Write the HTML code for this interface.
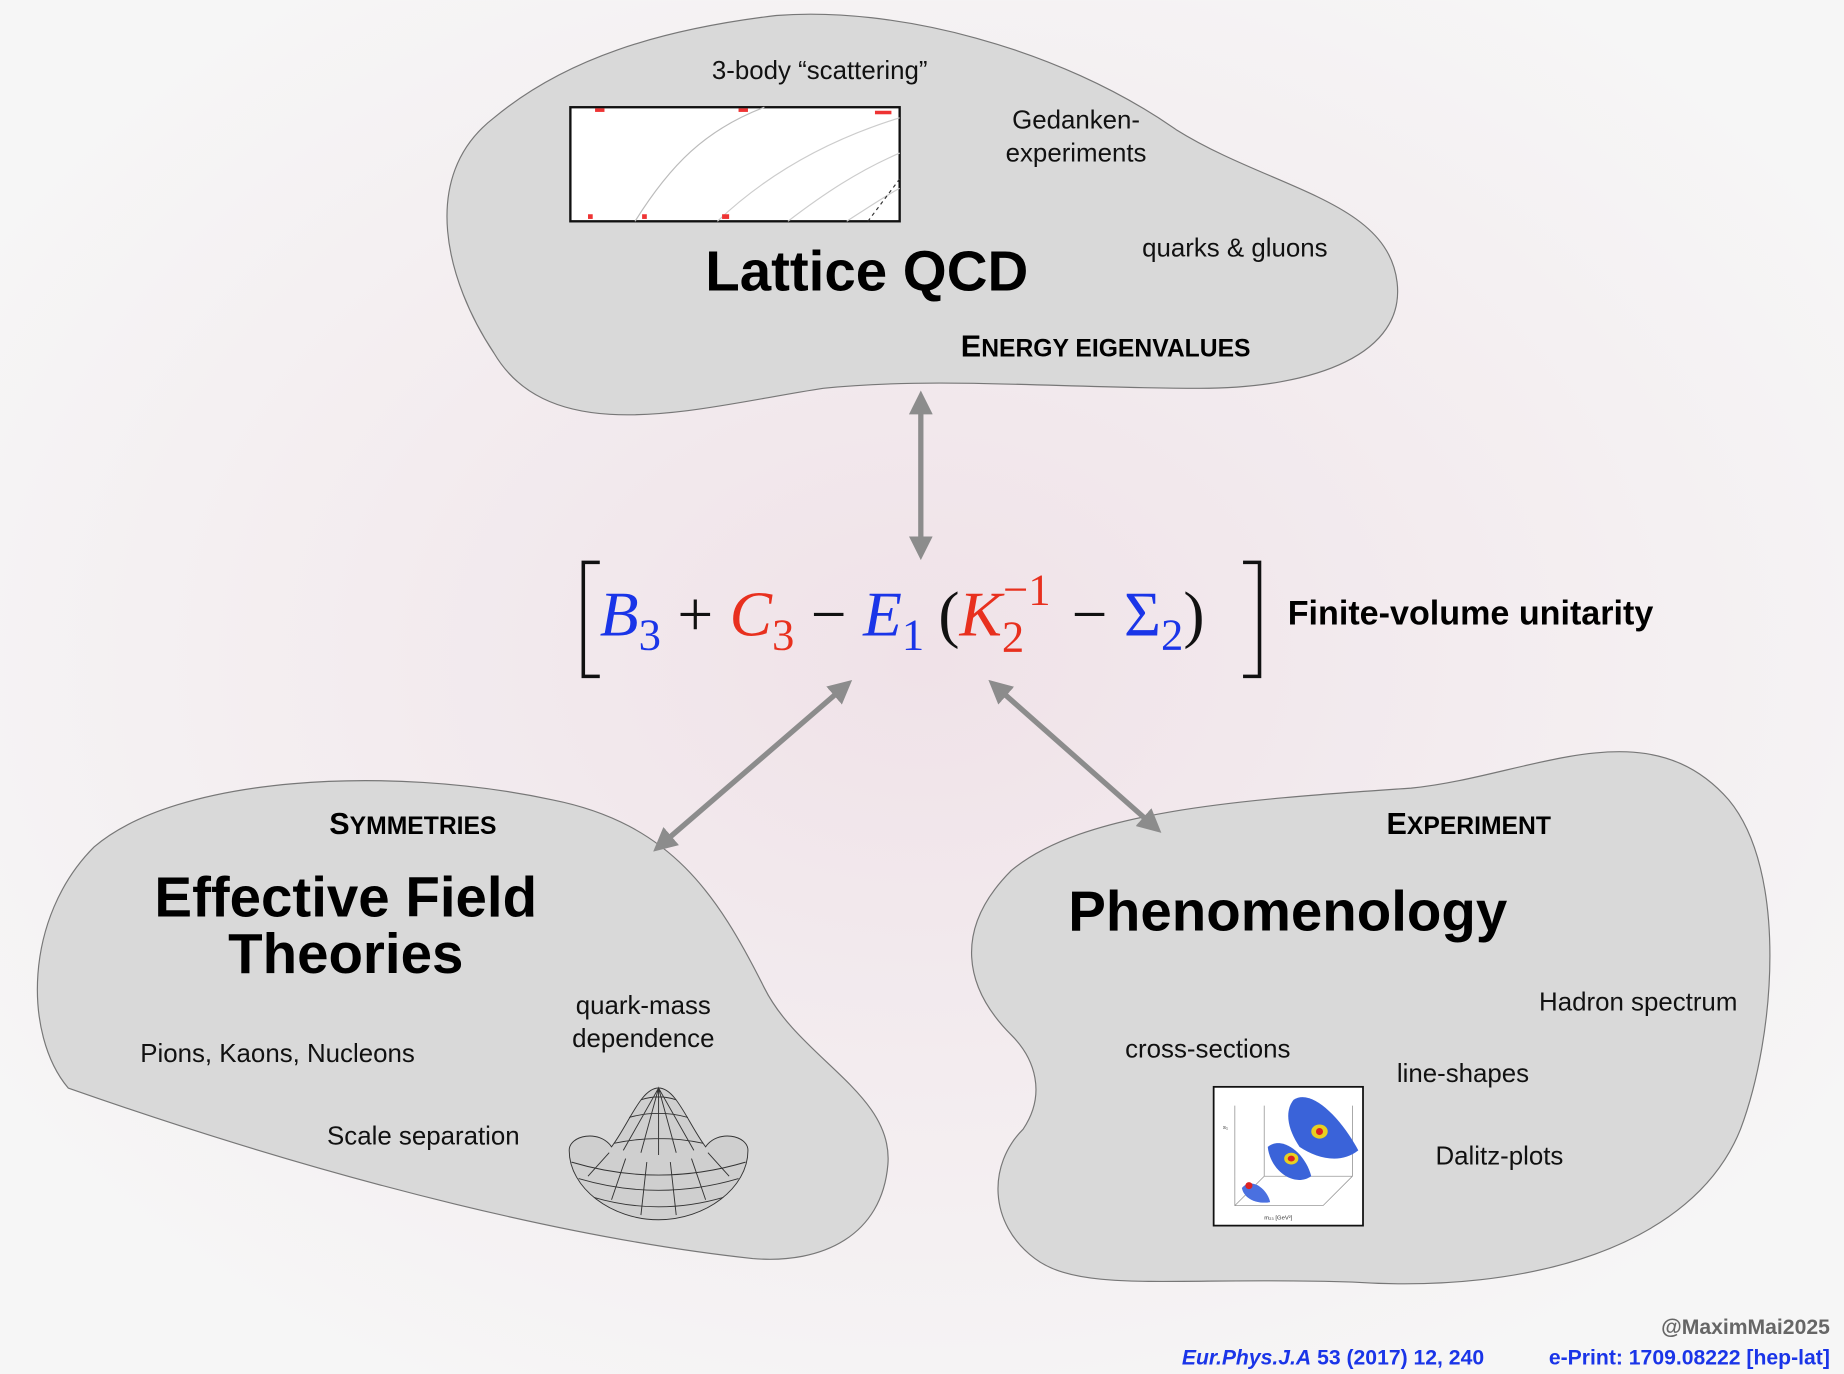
<!DOCTYPE html>
<html><head><meta charset="utf-8"><style>
html,body{margin:0;padding:0;width:1844px;height:1374px;overflow:hidden;background:#f6f6f6}
svg{display:block}
text{font-family:"Liberation Sans","DejaVu Sans",sans-serif}
</style></head><body>
<svg width="1844" height="1374" viewBox="0 0 1568 1168" xmlns="http://www.w3.org/2000/svg">
<defs>
<radialGradient id="bg" cx="0.5" cy="0.48" r="0.6">
<stop offset="0" stop-color="#f0e2e8"/><stop offset="1" stop-color="#f6f6f6"/>
</radialGradient>
<marker id="ah" viewBox="0 0 10 10" refX="7" refY="5" markerWidth="4.5" markerHeight="4.5" orient="auto-start-reverse"><path d="M0,0 L10,5 L0,10 Z" fill="#8c8c8c"/></marker>
</defs>
<rect width="1568" height="1168" fill="url(#bg)"/>

<g>
<path d="M420,300 C380,240 355,150 420,100 C480,50 560,25 660,13 C760,5 900,40 1000,110 C1080,160 1180,170 1188,240 C1195,300 1120,330 1020,330 C900,330 800,320 700,330 C600,345 470,385 420,300 Z" fill="#d9d9d9" stroke="#777" stroke-width="1"/>
<text x="697" y="67" font-size="22" text-anchor="middle" fill="#111">3-body “scattering”</text>
<g>
<rect x="485" y="91" width="280" height="97" fill="#fff" stroke="#111" stroke-width="2"/>
<path d="M540,188 C570,140 600,110 650,91" fill="none" stroke="#bbb"/>
<path d="M610,188 C650,150 700,120 765,100" fill="none" stroke="#ccc"/>
<path d="M670,188 C700,165 730,145 765,130" fill="none" stroke="#ccc"/>
<path d="M720,188 C740,175 755,165 765,160" fill="none" stroke="#ccc"/>
<path d="M738,188 L765,152" fill="none" stroke="#333" stroke-dasharray="3,3"/>
<g fill="#e33"><rect x="506" y="92" width="8" height="3"/><rect x="628" y="92" width="8" height="3"/><rect x="744" y="94" width="14" height="3"/><rect x="500" y="182" width="4" height="4"/><rect x="546" y="182" width="4" height="4"/><rect x="614" y="182" width="6" height="4"/></g>
</g>
<text x="915" y="109" font-size="22" text-anchor="middle" fill="#111">Gedanken-</text>
<text x="915" y="137" font-size="22" text-anchor="middle" fill="#111">experiments</text>
<text x="1050" y="218" font-size="22" text-anchor="middle" fill="#111">quarks &amp; gluons</text>
<text x="737" y="247" font-size="48" font-weight="bold" text-anchor="middle" fill="#000">Lattice QCD</text>
<text x="817" y="303" font-size="26" font-weight="bold" fill="#000">E<tspan font-size="21">NERGY EIGENVALUES</tspan></text>
</g>

<g>
<path d="M58,925 C20,880 20,780 80,720 C150,660 330,650 470,680 C570,700 610,760 650,840 C680,900 760,930 755,990 C750,1050 700,1075 640,1070 C500,1055 300,1010 58,925 Z" fill="#d9d9d9" stroke="#777" stroke-width="1"/>
<text x="280" y="709" font-size="26" font-weight="bold" fill="#000">S<tspan font-size="21">YMMETRIES</tspan></text>
<text x="294" y="779" font-size="48" font-weight="bold" text-anchor="middle" fill="#000">Effective Field</text>
<text x="294" y="827" font-size="48" font-weight="bold" text-anchor="middle" fill="#000">Theories</text>
<text x="547" y="862" font-size="22" text-anchor="middle" fill="#111">quark-mass</text>
<text x="547" y="890" font-size="22" text-anchor="middle" fill="#111">dependence</text>
<text x="236" y="903" font-size="22" text-anchor="middle" fill="#111">Pions, Kaons, Nucleons</text>
<text x="360" y="973" font-size="22" text-anchor="middle" fill="#111">Scale separation</text>
<g fill="none" stroke="#333" stroke-width="0.8">
<path d="M484,978 C484,1010 520,1037 560,1037 C600,1037 636,1010 636,978 C636,965 610,960 600,975 C585,955 575,925 560,925 C545,925 535,955 520,975 C510,960 484,965 484,978 Z" fill="#cfcfcf"/>
<path d="M530,978 L560,925 L590,978 M545,980 L560,925 L575,980 M560,925 L560,982 M522,972 Q560,964 598,972 M535,950 Q560,943 585,950 M545,935 Q560,930 575,935"/>
<path d="M486,988 Q560,1010 634,988 M492,1002 Q560,1022 628,1002 M505,1018 Q560,1034 615,1018"/>
<path d="M500,1000 L518,980 M520,1020 L532,985 M545,1033 L550,988 M575,1033 L570,988 M600,1020 L588,985 M620,1000 L602,980"/>
</g>
</g>

<g>
<path d="M880,1070 C840,1040 840,990 870,960 C890,930 880,900 860,880 C820,840 810,790 860,740 C920,690 1050,680 1200,670 C1300,660 1400,600 1470,680 C1520,740 1510,880 1480,960 C1440,1060 1300,1100 1150,1090 C1000,1085 920,1100 880,1070 Z" fill="#d9d9d9" stroke="#777" stroke-width="1"/>
<text x="1179" y="709" font-size="26" font-weight="bold" fill="#000">E<tspan font-size="21">XPERIMENT</tspan></text>
<text x="1095" y="791" font-size="48" font-weight="bold" text-anchor="middle" fill="#000">Phenomenology</text>
<text x="1393" y="859" font-size="22" text-anchor="middle" fill="#111">Hadron spectrum</text>
<text x="1027" y="899" font-size="22" text-anchor="middle" fill="#111">cross-sections</text>
<text x="1244" y="920" font-size="22" text-anchor="middle" fill="#111">line-shapes</text>
<text x="1275" y="990" font-size="22" text-anchor="middle" fill="#111">Dalitz-plots</text>
<g>
<rect x="1032" y="924" width="127" height="118" fill="#fff" stroke="#111" stroke-width="1.5"/>
<path d="M1050,940 L1050,1025 L1125,1025 M1050,1025 L1075,1000 L1150,1000 M1075,1000 L1075,940 M1125,1025 L1150,1000 L1150,940" fill="none" stroke="#999" stroke-width="0.7"/>
<path d="M1100,935 C1115,925 1140,950 1155,978 C1140,990 1120,985 1105,975 C1095,960 1092,945 1100,935 Z" fill="#3a63d9"/>
<ellipse cx="1122" cy="962" rx="7" ry="6" fill="#e8d020"/><ellipse cx="1122" cy="962" rx="3" ry="3" fill="#d22"/>
<path d="M1078,975 C1090,965 1110,980 1115,1000 C1100,1010 1080,995 1078,975 Z" fill="#3a63d9"/>
<ellipse cx="1098" cy="985" rx="6" ry="5" fill="#e8d020"/><ellipse cx="1098" cy="985" rx="3" ry="2.5" fill="#d22"/>
<path d="M1056,1010 C1065,1000 1078,1012 1080,1022 C1070,1024 1058,1020 1056,1010 Z" fill="#4a70e0"/>
<circle cx="1062" cy="1008" r="3" fill="#d22"/>
<text x="1040" y="960" font-size="5" fill="#333">s₁</text><text x="1075" y="1037" font-size="5" fill="#333">m₂₃ [GeV²]</text>
</g>
</g>

<g stroke="#8c8c8c" stroke-width="4.5">
<line x1="783" y1="338" x2="783" y2="470" marker-start="url(#ah)" marker-end="url(#ah)"/>
<line x1="720" y1="582" x2="560" y2="720" marker-start="url(#ah)" marker-end="url(#ah)"/>
<line x1="845" y1="582" x2="983" y2="704" marker-start="url(#ah)" marker-end="url(#ah)"/>
</g>

<g>
<path d="M510,478 L496,478 L496,575 L510,575" fill="none" stroke="#111" stroke-width="3"/>
<path d="M1057,478 L1071,478 L1071,575 L1057,575" fill="none" stroke="#111" stroke-width="3"/>
<text y="540" style="font-family:'Liberation Serif',serif" font-size="54" fill="#111">
<tspan x="510" font-style="italic" fill="#1a35e8">B</tspan><tspan font-size="38" dy="12" fill="#1a35e8">3</tspan><tspan dx="14" dy="-12">+</tspan><tspan dx="14" font-style="italic" fill="#e8301e">C</tspan><tspan font-size="38" dy="12" fill="#e8301e">3</tspan><tspan dx="14" dy="-12">−</tspan><tspan dx="14" font-style="italic" fill="#1a35e8">E</tspan><tspan font-size="38" dy="12" fill="#1a35e8">1</tspan><tspan dx="12" dy="-12">(</tspan><tspan font-style="italic" fill="#e8301e">K</tspan><tspan font-size="38" dy="14" fill="#e8301e">2</tspan><tspan font-size="38" dx="-18" dy="-40" fill="#e8301e">−1</tspan><tspan dx="18" dy="26">−</tspan><tspan dx="14" fill="#1a35e8">Σ</tspan><tspan font-size="38" dy="12" fill="#1a35e8">2</tspan><tspan dy="-12">)</tspan>
</text>
<text x="1095" y="531" font-size="29" font-weight="bold" fill="#000">Finite-volume unitarity</text>
</g>

<text x="1556" y="1134" font-size="18" font-weight="bold" text-anchor="end" fill="#666">@MaximMai2025</text>
<text x="1262" y="1160" font-size="18" font-weight="bold" text-anchor="end" fill="#1a35e8"><tspan font-style="italic">Eur.Phys.J.A</tspan> 53 (2017) 12, 240</text>
<text x="1556" y="1160" font-size="18" font-weight="bold" text-anchor="end" fill="#1a35e8">e-Print: 1709.08222 [hep-lat]</text>
</svg>
</body></html>
